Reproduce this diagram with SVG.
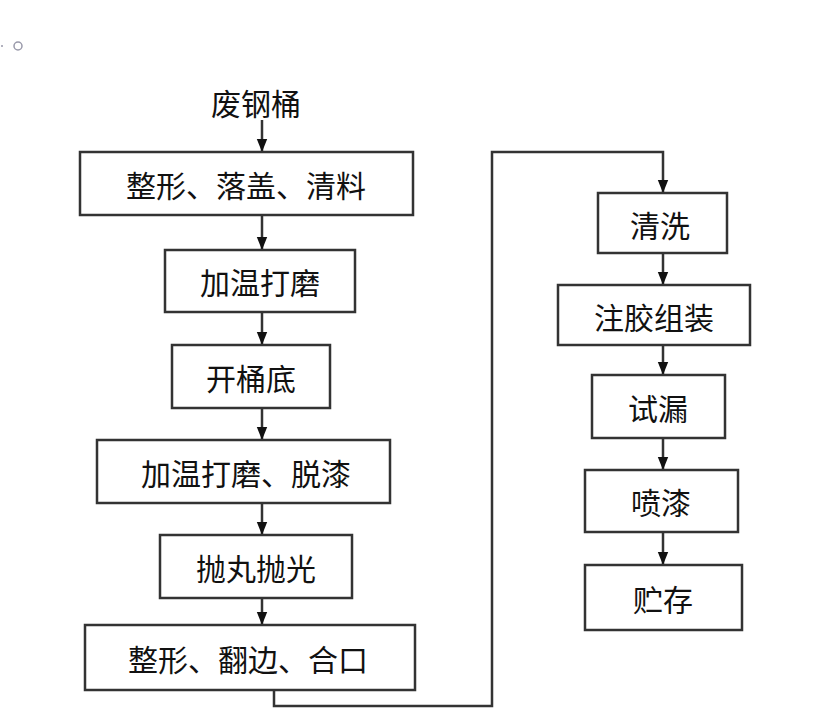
<svg xmlns="http://www.w3.org/2000/svg" width="818" height="718" viewBox="0 0 818 718">
<style>
.b{fill:#fff;stroke:#333;stroke-width:2.5}
.t{font-family:"Noto Sans CJK SC",sans-serif;font-size:30px;fill:#111;text-anchor:middle;dominant-baseline:central}
.c{fill:none;stroke:#333;stroke-width:2.5}
</style>
<defs><marker id="a" viewBox="0 0 10 10" refX="10" refY="5" markerWidth="5" markerHeight="5" orient="auto" markerUnits="userSpaceOnUse"><path d="M0,0L10,5L0,10z" fill="#111"/></marker>
<marker id="m" viewBox="0 0 10 10" refX="10" refY="5" markerWidth="13" markerHeight="13" orient="auto" markerUnits="userSpaceOnUse"><path d="M0,1L10,5L0,9z" fill="#111"/></marker></defs>
<rect width="818" height="718" fill="#fff"/>
<circle cx="2" cy="46" r="1" fill="#99a"/>
<circle cx="18" cy="46" r="4" fill="none" stroke="#99a" stroke-width="1.5"/>
<g id="connectors">
<path class="c" marker-end="url(#m)" d="M262,120V152"/>
<path class="c" marker-end="url(#m)" d="M262,215V250"/>
<path class="c" marker-end="url(#m)" d="M262,312V345"/>
<path class="c" marker-end="url(#m)" d="M262,408V440"/>
<path class="c" marker-end="url(#m)" d="M262,503V535"/>
<path class="c" marker-end="url(#m)" d="M262,598V625"/>
<path class="c" marker-end="url(#m)" d="M274,690V706H492V152H663V193"/>
<path class="c" marker-end="url(#m)" d="M663,253V285"/>
<path class="c" marker-end="url(#m)" d="M663,345V375"/>
<path class="c" marker-end="url(#m)" d="M663,438V470"/>
<path class="c" marker-end="url(#m)" d="M663,532V565"/>
</g>
<g id="n0"><text class="t" x="256" y="102">废钢桶</text></g>
<g id="n1"><rect class="b" x="80" y="152" width="333" height="63"/><text class="t" x="246" y="184">整形、落盖、清料</text></g>
<g id="n2"><rect class="b" x="165" y="250" width="190" height="62"/><text class="t" x="260" y="281">加温打磨</text></g>
<g id="n3"><rect class="b" x="172" y="345" width="158" height="63"/><text class="t" x="251" y="377">开桶底</text></g>
<g id="n4"><rect class="b" x="97" y="440" width="293" height="63"/><text class="t" x="246" y="472">加温打磨、脱漆</text></g>
<g id="n5"><rect class="b" x="160" y="535" width="192" height="63"/><text class="t" x="256" y="567">抛丸抛光</text></g>
<g id="n6"><rect class="b" x="85" y="625" width="330" height="65"/><text class="t" x="248" y="658">整形、翻边、合口</text></g>
<g id="n7"><rect class="b" x="598" y="193" width="129" height="60"/><text class="t" x="660" y="224">清洗</text></g>
<g id="n8"><rect class="b" x="558" y="285" width="192" height="60"/><text class="t" x="654" y="316">注胶组装</text></g>
<g id="n9"><rect class="b" x="592" y="375" width="133" height="63"/><text class="t" x="658" y="407">试漏</text></g>
<g id="n10"><rect class="b" x="585" y="470" width="153" height="62"/><text class="t" x="661" y="501">喷漆</text></g>
<g id="n11"><rect class="b" x="585" y="565" width="157" height="65"/><text class="t" x="663" y="598">贮存</text></g>
</svg>
